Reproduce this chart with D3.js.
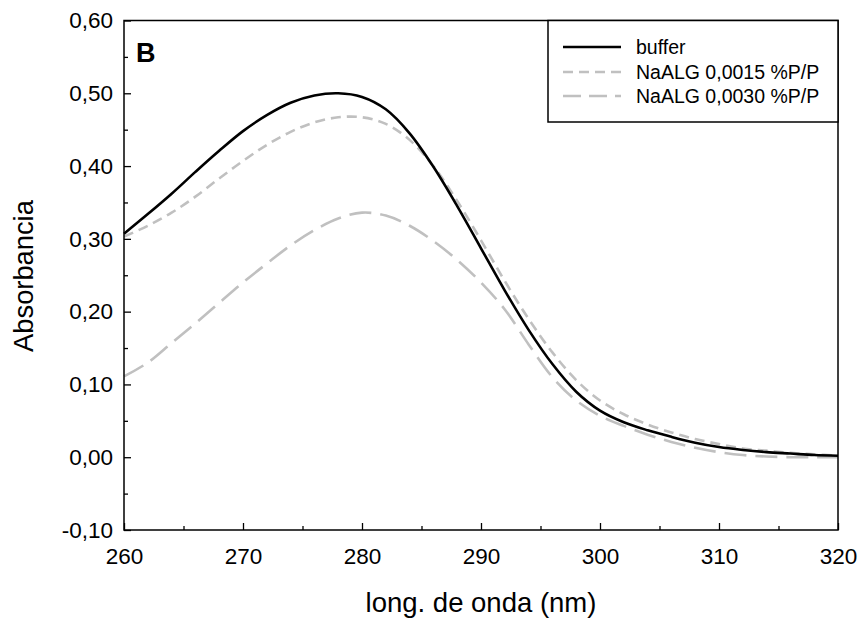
<!DOCTYPE html>
<html>
<head>
<meta charset="utf-8">
<script src="https://cdn.jsdelivr.net/npm/d3@7"></script>
<style>
  html, body { margin: 0; padding: 0; background: #fff; }
  svg { display: block; font-family: "Liberation Sans", Arial, sans-serif; }
</style>
</head>
<body>
<svg id="chart" width="861" height="621"></svg>
<script>
// ---- data ----
const wavelength = [260,262,264,266,268,270,272,274,276,278,280,282,284,286,288,290,292,294,296,298,300,302,304,306,308,310,312,314,316,318,320];
const buffer     = [0.307,0.334,0.362,0.392,0.421,0.448,0.470,0.487,0.497,0.500,0.495,0.478,0.445,0.399,0.345,0.287,0.229,0.175,0.128,0.090,0.064,0.048,0.037,0.028,0.020,0.014,0.010,0.007,0.005,0.003,0.002];
const naalg0015  = [0.303,0.318,0.336,0.358,0.383,0.407,0.429,0.447,0.460,0.467,0.467,0.458,0.436,0.400,0.352,0.298,0.242,0.190,0.144,0.106,0.078,0.059,0.045,0.034,0.025,0.018,0.012,0.009,0.006,0.004,0.002];
const naalg0030  = [0.111,0.130,0.157,0.184,0.212,0.240,0.266,0.291,0.312,0.328,0.336,0.332,0.318,0.297,0.271,0.240,0.203,0.155,0.110,0.078,0.057,0.043,0.031,0.021,0.013,0.007,0.003,0.001,0.000,0.000,0.000];
const seriesNames = ["buffer", "NaALG 0,0015 %P/P", "NaALG 0,0030 %P/P"];
const xTicks = [260,270,280,290,300,310,320];
const xMinorTicks = [265,275,285,295,305,315];
const yTicks = [-0.10,0.00,0.10,0.20,0.30,0.40,0.50,0.60];
const yMinorTicks = [-0.05,0.05,0.15,0.25,0.35,0.45,0.55];
const panelLabel = "B";
const xTitle = "long. de onda (nm)";
const yTitle = "Absorbancia";

// ---- layout ----
const svg = d3.select("#chart");
const L = 124, R = 838, T = 20.5, B = 530;
const x = d3.scaleLinear().domain([260, 320]).range([L, R]);
const y = d3.scaleLinear().domain([-0.10, 0.60]).range([B, T]);
const fmt = v => d3.format(".2f")(v).replace(".", ",").replace("−", "-");

const styles = [
  { stroke: "#000000", width: 2.6, dash: null },
  { stroke: "#c0c0c0", width: 2.6, dash: "10,6" },
  { stroke: "#c0c0c0", width: 2.6, dash: "22,9" }
];
const data = [buffer, naalg0015, naalg0030];

// lines
const line = d3.line().x(d => x(d[0])).y(d => y(d[1])).curve(d3.curveCatmullRom.alpha(0.5));
const order = [2, 1, 0];
order.forEach(i => {
  svg.append("path")
    .datum(wavelength.map((w, k) => [w, data[i][k]]))
    .attr("fill", "none")
    .attr("stroke", styles[i].stroke)
    .attr("stroke-width", styles[i].width)
    .attr("stroke-dasharray", styles[i].dash)
    .attr("d", line);
});

// axes
const gx = svg.append("g").attr("transform", `translate(0,${B})`)
  .call(d3.axisBottom(x).tickValues(xTicks).tickSizeInner(-7).tickSizeOuter(0).tickPadding(18).tickFormat(d3.format("d")));
const gxm = svg.append("g").attr("transform", `translate(0,${B})`)
  .call(d3.axisBottom(x).tickValues(xMinorTicks).tickSizeInner(-4).tickSizeOuter(0).tickFormat(""));
const gy = svg.append("g").attr("transform", `translate(${L},0)`)
  .call(d3.axisLeft(y).tickValues(yTicks).tickSizeInner(-7).tickSizeOuter(0).tickPadding(11).tickFormat(fmt));
const gym = svg.append("g").attr("transform", `translate(${L},0)`)
  .call(d3.axisLeft(y).tickValues(yMinorTicks).tickSizeInner(-4).tickSizeOuter(0).tickFormat(""));
[gx, gxm, gy, gym].forEach(g => {
  g.selectAll(".domain").remove();
  g.selectAll("line").attr("stroke", "#000").attr("stroke-width", 1.3);
  g.selectAll("text").attr("fill", "#000").style("font-size", "22.5px").style("font-family", "'Liberation Sans', Arial, sans-serif");
});

// frame
svg.append("rect").attr("x", L).attr("y", T).attr("width", R - L).attr("height", B - T)
  .attr("fill", "none").attr("stroke", "#000").attr("stroke-width", 1.5);

// panel label
svg.append("text").attr("x", 136).attr("y", 62).text(panelLabel)
  .style("font-size", "27px").style("font-weight", "bold").attr("fill", "#000");

// axis titles
svg.append("text").attr("x", 481).attr("y", 612).attr("text-anchor", "middle")
  .style("font-size", "27.5px").attr("fill", "#000").text(xTitle);
svg.append("text").attr("transform", `translate(33,${276}) rotate(-90)`).attr("text-anchor", "middle")
  .style("font-size", "27.3px").attr("fill", "#000").text(yTitle);

// legend
const lg = svg.append("g");
lg.append("rect").attr("x", 548).attr("y", T).attr("width", R - 548).attr("height", 122 - T)
  .attr("fill", "#fff").attr("stroke", "#000").attr("stroke-width", 1.5);
const rowsY = [47, 72, 96];
seriesNames.forEach((name, i) => {
  lg.append("line").attr("x1", 563).attr("x2", 621).attr("y1", rowsY[i]).attr("y2", rowsY[i])
    .attr("stroke", styles[i].stroke).attr("stroke-width", styles[i].width)
    .attr("stroke-dasharray", i === 2 ? "18,8" : styles[i].dash);
  lg.append("text").attr("x", 636).attr("y", rowsY[i]).attr("dy", "0.35em")
    .style("font-size", "19.5px").attr("fill", "#000").text(name);
});
</script>
</body>
</html>
